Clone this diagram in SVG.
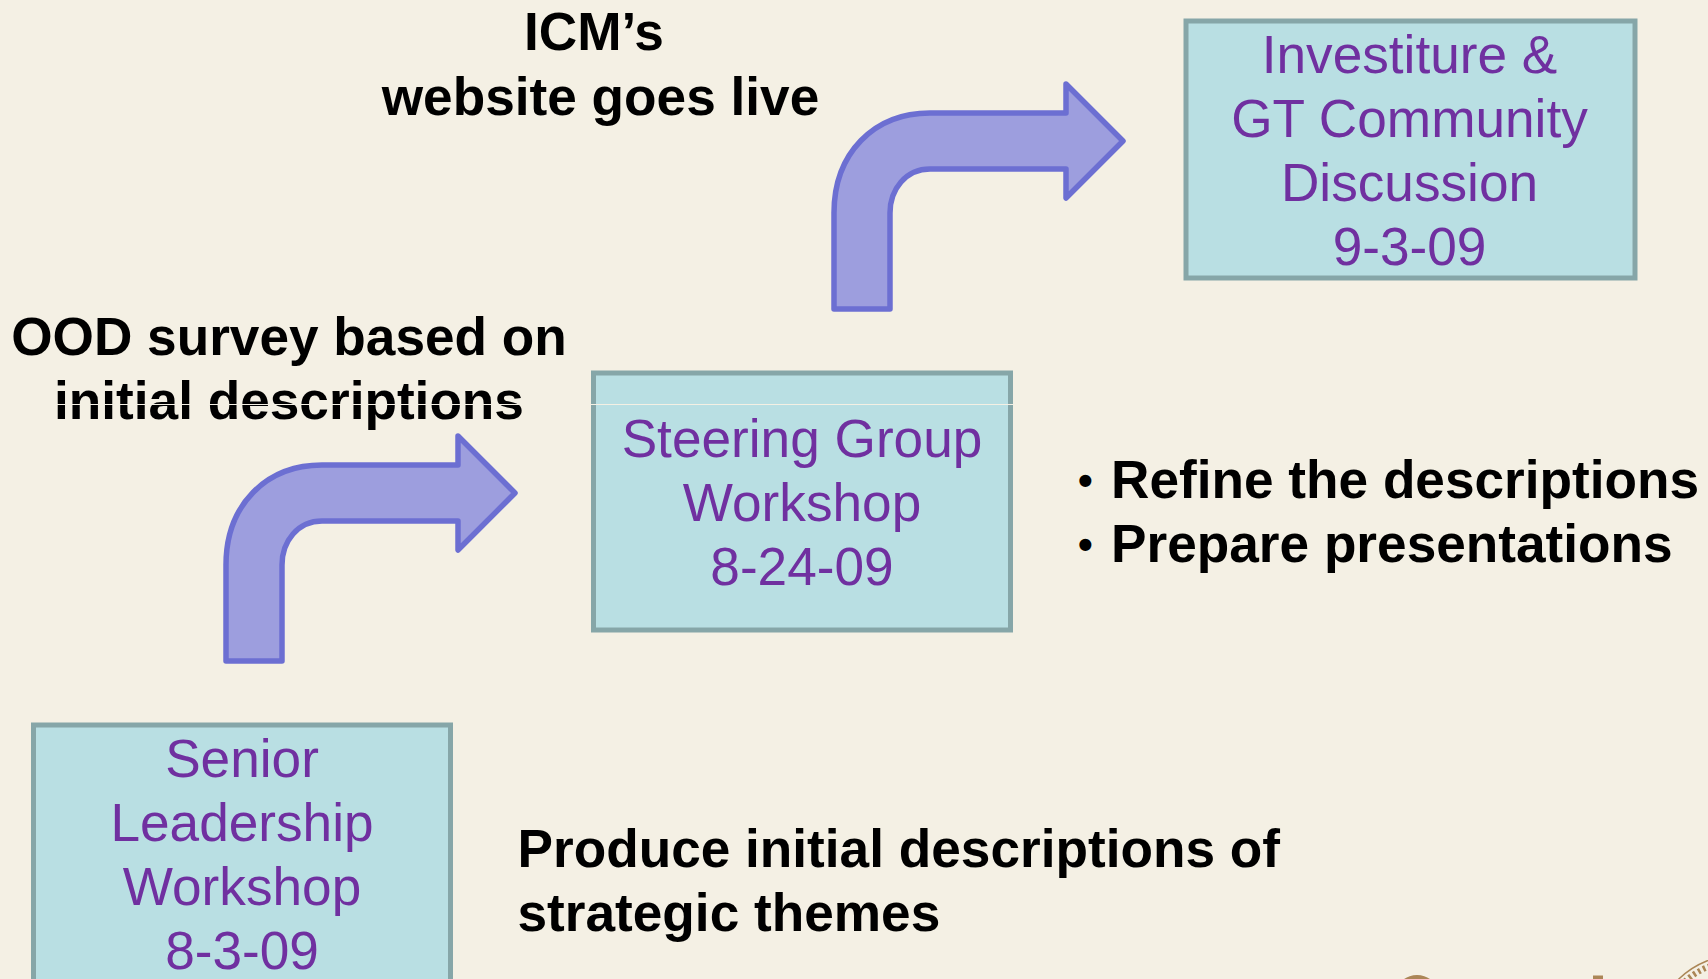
<svg xmlns="http://www.w3.org/2000/svg" width="1708" height="979" viewBox="0 0 1708 979">
<style>
.box{fill:#b9dfe3;stroke:#86a6a8;stroke-width:5}
.arrow{fill:#9d9ede;stroke:#6c6fd2;stroke-width:5.500;stroke-linejoin:round}
text{font-family:"Liberation Sans",Arial,sans-serif;font-size:53.200px}
.n{fill:#7030a0;text-anchor:middle}
.b{fill:#000;font-weight:bold}
.m{text-anchor:middle}
.dot{font-size:42px}
.seal{fill:none;stroke:#ab8656}
</style>
<defs>
<path id="bent" class="arrow" d="M226 661V565C226 505 266 465 322 465H458V436L515 493L458 550V521H322C298 521 282 541 282 565V661Z"/>
</defs>
<rect width="1708" height="979" fill="#f4f0e4"/>
<g id="connectors">
<use href="#bent"/>
<use href="#bent" x="608" y="-352"/>
</g>
<g id="node-senior">
<rect class="box" x="33.500" y="725" width="417" height="270"/>
<text class="n" x="242" y="777">Senior</text>
<text class="n" x="242" y="841">Leadership</text>
<text class="n" x="242" y="905">Workshop</text>
<text class="n" x="242" y="969">8-3-09</text>
</g>
<g id="node-steering">
<rect class="box" x="593.500" y="373" width="417" height="257"/>
<text class="n" x="802" y="457">Steering Group</text>
<text class="n" x="802" y="521">Workshop</text>
<text class="n" x="802" y="585">8-24-09</text>
</g>
<g id="node-investiture">
<rect class="box" x="1186" y="21" width="449" height="257"/>
<text class="n" x="1409.500" y="73">Investiture &amp;</text>
<text class="n" x="1409.500" y="137">GT Community</text>
<text class="n" x="1409.500" y="201">Discussion</text>
<text class="n" x="1409.500" y="265">9-3-09</text>
</g>
<g id="labels">
<text class="b m" x="594" y="50">ICM’s</text>
<text class="b m" x="600.500" y="114.500">website goes live</text>
<text class="b m" x="289" y="355">OOD survey based on</text>
<text class="b m" x="289" y="419">initial descriptions</text>
<text class="b dot" x="1078" y="495">•</text>
<text class="b" x="1111" y="498">Refine the descriptions</text>
<text class="b dot" x="1078" y="559">•</text>
<text class="b" x="1111" y="562">Prepare presentations</text>
<text class="b" x="517.500" y="866.500">Produce initial descriptions of</text>
<text class="b" x="517.500" y="930.500">strategic themes</text>
</g>
<path d="M0 404.500H1040" stroke="#f4f0e4" stroke-width="1.200" fill="none"/>
<g id="footer">
<ellipse cx="1417" cy="990" rx="19" ry="15" fill="#ab8656"/>
<rect x="1593" y="975.500" width="10" height="4" fill="#ab8656"/>
<circle class="seal" cx="1738" cy="1040" r="85" stroke-width="1.500"/>
<circle class="seal" cx="1738" cy="1040" r="79" stroke-width="6" stroke-dasharray="2.500 3"/>
</g>
</svg>
